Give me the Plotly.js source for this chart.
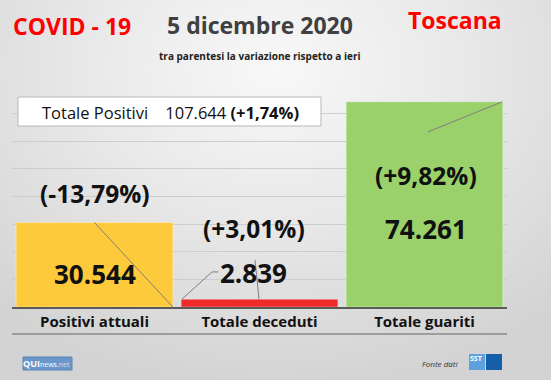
<!DOCTYPE html>
<html>
<head>
<meta charset="utf-8">
<script src="https://cdn.plot.ly/plotly-3.0.1.min.js"></script>
<style>
  html, body { margin: 0; padding: 0; }
  body { width: 551px; height: 380px; overflow: hidden;
    background: radial-gradient(ellipse 75% 85% at 50% 18%, #f8f8f8 0%, #e9e9e9 45%, #d3d3d3 100%); }
  #chart { width: 551px; height: 380px; }
</style>
</head>
<body>
<div id="chart"></div>
<script>
// ---- data ----
const categories = ['Positivi attuali', 'Totale deceduti', 'Totale guariti'];
const values = [30544, 2839, 74261];
const variations = [-13.79, 3.01, 9.82];
const barColors = ['#FDCA3B', '#F02A2A', '#9BD16A'];
const totalePositivi = 107644;
const totalePositiviVar = 1.74;
const dateLabel = '5 dicembre 2020';
const regionLabel = 'Toscana';
const headLabel = 'COVID - 19';
const subLabel = 'tra parentesi la variazione rispetto a ieri';

// ---- helpers ----
const FONT = '"Open Sans", "Noto Sans", sans-serif';
const PL = 12, PR = 507, PT = 86, PB = 307;
function px(x) { return (x - PL) / (PR - PL); }
function py(y) { return (PB - y) / (PB - PT); }
function fmtInt(n) { return String(n).replace(/\B(?=(\d{3})+(?!\d))/g, '.'); }
function fmtPct(v) { return '(' + (v > 0 ? '+' : '') + v.toFixed(2).replace('.', ',') + '%)'; }

const valueLabelY = [274, 273, 229];
const varLabelY = [193, 228, 175];
const labelShift = [0, -6, 1];

const annotations = [];
categories.forEach((c, i) => {
  annotations.push({ x: i, xref: 'x', y: py(valueLabelY[i]), yref: 'paper', xshift: labelShift[i],
    text: '<b>' + fmtInt(values[i]) + '</b>', showarrow: false, xanchor: 'center', yanchor: 'middle',
    font: { family: FONT, size: 26, color: '#111' } });
  annotations.push({ x: i, xref: 'x', y: py(varLabelY[i]), yref: 'paper', xshift: labelShift[i],
    text: '<b>' + fmtPct(variations[i]) + '</b>', showarrow: false, xanchor: 'center', yanchor: 'middle',
    font: { family: FONT, size: 24.5, color: '#111' } });
});

// titles
annotations.push({ x: px(72), y: py(26), xref: 'paper', yref: 'paper', text: '<b>' + headLabel + '</b>',
  showarrow: false, xanchor: 'center', yanchor: 'middle', font: { family: FONT, size: 23, color: '#FF0000' } });
annotations.push({ x: px(260), y: py(25), xref: 'paper', yref: 'paper', text: '<b>' + dateLabel + '</b>',
  showarrow: false, xanchor: 'center', yanchor: 'middle', font: { family: FONT, size: 23, color: '#404040' } });
annotations.push({ x: px(455), y: py(20), xref: 'paper', yref: 'paper', text: '<b>' + regionLabel + '</b>',
  showarrow: false, xanchor: 'center', yanchor: 'middle', font: { family: FONT, size: 23, color: '#FF0000' } });
annotations.push({ x: px(260), y: py(56), xref: 'paper', yref: 'paper', text: '<b>' + subLabel + '</b>',
  showarrow: false, xanchor: 'center', yanchor: 'middle', font: { family: FONT, size: 10, color: '#222' } });

// totale positivi box text
annotations.push({ x: px(170), y: py(112), xref: 'paper', yref: 'paper',
  text: 'Totale Positivi&nbsp;&nbsp;&nbsp;&nbsp;' + fmtInt(totalePositivi) + ' <b>' + fmtPct(totalePositiviVar) + '</b>',
  showarrow: false, xanchor: 'center', yanchor: 'middle', font: { family: FONT, size: 16.5, color: '#111' } });

// footer
annotations.push({ x: px(46), y: py(363), xref: 'paper', yref: 'paper',
  text: '<b>QUI</b><span style="font-size:7px">news</span><span style="font-size:7px;color:#cfe0f5">.net</span>',
  showarrow: false, xanchor: 'center', yanchor: 'middle', font: { family: FONT, size: 9, color: '#ffffff' } });
annotations.push({ x: px(440), y: py(363), xref: 'paper', yref: 'paper', text: '<i>Fonte dati</i>',
  showarrow: false, xanchor: 'center', yanchor: 'middle', font: { family: FONT, size: 8, color: '#333' } });
annotations.push({ x: px(476), y: py(358), xref: 'paper', yref: 'paper', text: '<b>SST</b>',
  showarrow: false, xanchor: 'center', yanchor: 'middle', font: { family: FONT, size: 7, color: '#ffffff' } });

const grayLine = { color: '#7f7f7f', width: 1 };
const shapes = [
  // leader lines
  { type: 'line', xref: 'x', yref: 'y', x0: 0, y0: values[0], x1: 0.475, y1: 0, line: grayLine },
  { type: 'line', xref: 'x', yref: 'y', x0: 0.53, y0: values[1], x1: 0.712, y1: 12700, line: grayLine },
  { type: 'line', xref: 'x', yref: 'y', x0: 0.712, y0: 12700, x1: 0.75, y1: 12700, line: grayLine },
  { type: 'line', xref: 'x', yref: 'y', x0: 0.973, y0: 17000, x1: 0.997, y1: values[1], line: grayLine },
  { type: 'line', xref: 'x', yref: 'y', x0: 2.021, y0: 63400, x1: 2.47, y1: values[2], line: grayLine },
  // totale positivi box
  { type: 'rect', xref: 'paper', yref: 'paper', x0: px(18), x1: px(321), y0: py(126), y1: py(97),
    fillcolor: '#ffffff', line: { color: '#b8b8b8', width: 1 } },
  // bottom separator
  { type: 'line', xref: 'paper', yref: 'paper', x0: 0, x1: 1, y0: py(334), y1: py(334),
    line: { color: '#8a8a8a', width: 1.5 } },
  // footer logos
  { type: 'rect', xref: 'paper', yref: 'paper', x0: px(23), x1: px(72), y0: py(370), y1: py(357),
    fillcolor: '#6b96c9', line: { color: '#5a84b8', width: 1 } },
  { type: 'rect', xref: 'paper', yref: 'paper', x0: px(469), x1: px(485), y0: py(370), y1: py(354),
    fillcolor: '#5ea2dd', line: { width: 0 } },
  { type: 'rect', xref: 'paper', yref: 'paper', x0: px(486), x1: px(502), y0: py(370), y1: py(354),
    fillcolor: '#155fa8', line: { width: 0 } }
];

const trace = {
  type: 'bar', x: categories, y: values,
  marker: { color: barColors, line: { color: 'rgba(255,255,255,0.35)', width: 1 } },
  hoverinfo: 'none'
};

const layout = {
  width: 551, height: 380,
  margin: { l: PL, r: 551 - PR, t: PT, b: 380 - PB },
  paper_bgcolor: 'rgba(0,0,0,0)', plot_bgcolor: 'rgba(0,0,0,0)',
  bargap: 0.05, showlegend: false,
  xaxis: { type: 'category', showline: true, linecolor: '#5a5a5a', linewidth: 1.5, ticks: '',
    tickfont: { family: FONT, size: 15, color: '#111', weight: 'bold' }, showgrid: false, zeroline: false },
  yaxis: { range: [0, 80000], dtick: 10000, showgrid: true, gridcolor: '#cdcdcd', gridwidth: 1,
    showticklabels: false, zeroline: false, showline: false, ticks: '' },
  annotations: annotations, shapes: shapes
};

Plotly.newPlot('chart', [trace], layout, { staticPlot: true, displayModeBar: false });
</script>
</body>
</html>
